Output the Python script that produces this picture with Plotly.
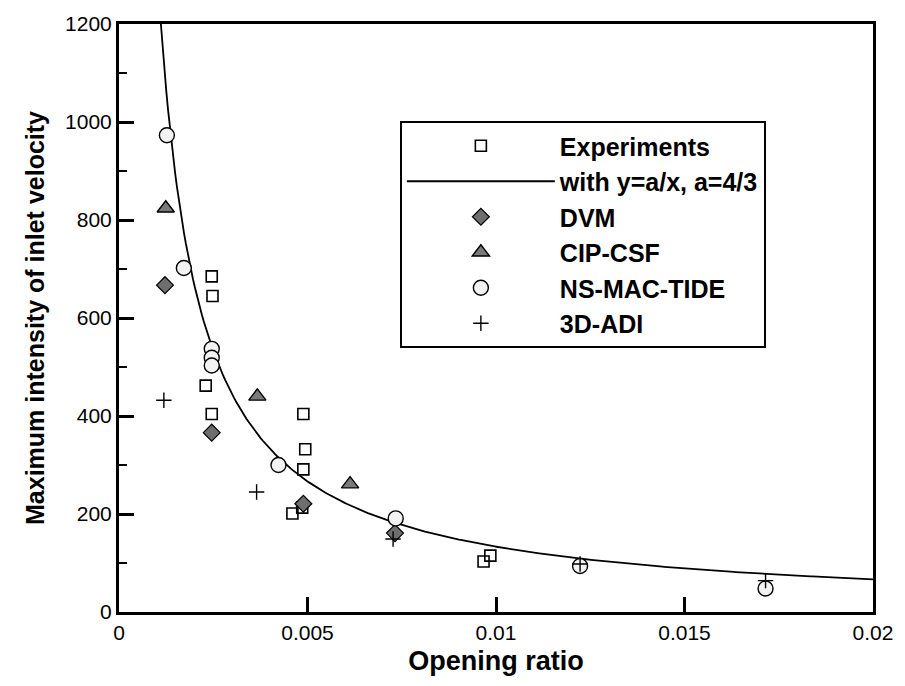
import numpy as np
import plotly.graph_objects as go

# Opening ratio (x) and maximum inlet velocity (y) for each data source
exp_x = [0.00246, 0.00248, 0.00230, 0.00246, 0.00489, 0.00494, 0.00489, 0.00460, 0.00486, 0.00967, 0.00985]
exp_y = [685, 645, 462, 404, 404, 332, 291, 201, 213, 103, 115]

dvm_x = [0.00122, 0.00246, 0.00489, 0.00732]
dvm_y = [667, 366, 221, 161]

cip_x = [0.00124, 0.00367, 0.00613]
cip_y = [824, 440, 261]

ns_x = [0.00127, 0.00172, 0.00246, 0.00246, 0.00246, 0.00423, 0.00734, 0.01223, 0.01715]
ns_y = [973, 702, 537, 519, 503, 300, 191, 94, 48]

adi_x = [0.00119, 0.00365, 0.00727, 0.01223, 0.01715]
adi_y = [432, 245, 149, 98, 64]

# Fitted curve y = a / x
a_coef = 4.0 / 3.0
fit_x = np.linspace(a_coef / 1200.0, 0.02, 400)
fit_y = a_coef / fit_x

FONT = "Liberation Sans, Arial, sans-serif"

fig = go.Figure()

fig.add_trace(go.Scatter(
    x=exp_x, y=exp_y, mode="markers", name="Experiments",
    marker=dict(symbol="square-open", size=11, color="black", line=dict(width=1.6, color="black")),
))
fig.add_trace(go.Scatter(
    x=fit_x, y=fit_y, mode="lines", name="with y=a/x, a=4/3",
    line=dict(color="black", width=1.8),
))
fig.add_trace(go.Scatter(
    x=dvm_x, y=dvm_y, mode="markers", name="DVM",
    marker=dict(symbol="diamond", size=13, color="#6e6e6e", line=dict(width=1.2, color="black")),
))
fig.add_trace(go.Scatter(
    x=cip_x, y=cip_y, mode="markers", name="CIP-CSF",
    marker=dict(symbol="triangle-up", size=15, color="#7a7a7a", line=dict(width=1.4, color="black")),
))
fig.add_trace(go.Scatter(
    x=ns_x, y=ns_y, mode="markers", name="NS-MAC-TIDE",
    marker=dict(symbol="circle", size=15, color="#f2f2f2", line=dict(width=1.4, color="black")),
))
fig.add_trace(go.Scatter(
    x=adi_x, y=adi_y, mode="markers", name="3D-ADI",
    marker=dict(symbol="cross-thin", size=11, color="black", line=dict(width=1.4, color="black")),
))

fig.update_layout(
    width=905, height=686,
    margin=dict(l=119, r=29, t=17, b=74),
    paper_bgcolor="white", plot_bgcolor="white",
    font=dict(family=FONT, color="black"),
    showlegend=True,
    legend=dict(
        x=0.3725, y=0.835, xanchor="left", yanchor="top",
        bgcolor="white", bordercolor="black", borderwidth=2,
        font=dict(family=FONT, size=25, color="black", weight="bold"),
        itemwidth=148, tracegroupgap=0,
    ),
    xaxis=dict(
        range=[0, 0.02], tickvals=[0, 0.005, 0.01, 0.015, 0.02],
        ticktext=["0", "0.005", "0.01", "0.015", "0.02"],
        ticks="inside", ticklen=15, tickwidth=2.5, tickcolor="black",
        showline=True, linewidth=3, linecolor="black", mirror=True,
        showgrid=False, zeroline=False,
        tickfont=dict(family=FONT, size=21),
        title=dict(text="Opening ratio", font=dict(family=FONT, size=27, weight="bold"), standoff=8),
    ),
    yaxis=dict(
        range=[0, 1200], tickvals=[0, 200, 400, 600, 800, 1000, 1200],
        ticks="inside", ticklen=15, tickwidth=2.5, tickcolor="black",
        minor=dict(dtick=100, ticks="inside", ticklen=8, tickwidth=1.5, tickcolor="black"),
        showline=True, linewidth=3, linecolor="black", mirror=True,
        showgrid=False, zeroline=False,
        tickfont=dict(family=FONT, size=21),
        title=dict(text="Maximum intensity of inlet velocity", font=dict(family=FONT, size=25, weight="bold"), standoff=14),
    ),
)

fig.write_html("out.html")
